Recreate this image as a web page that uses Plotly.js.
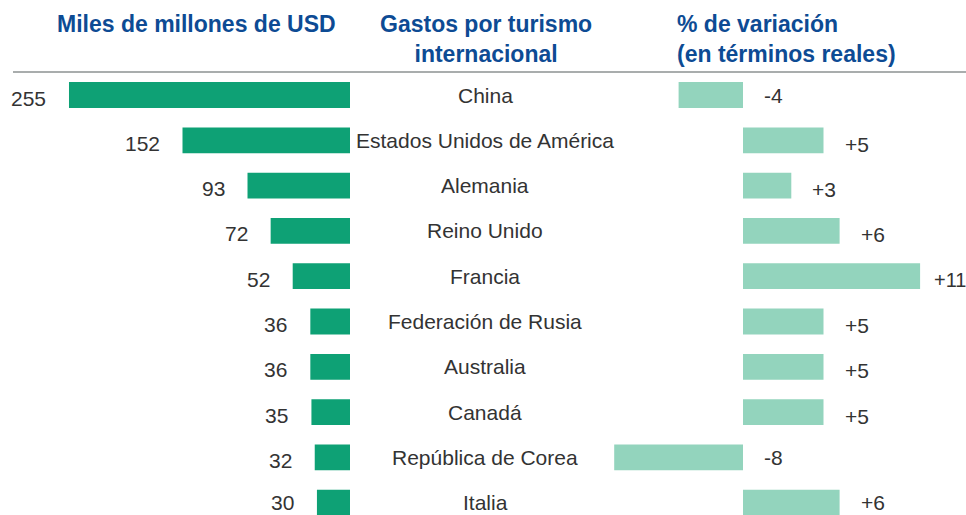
<!DOCTYPE html>
<html>
<head>
<meta charset="utf-8">
<script src="https://cdn.plot.ly/plotly-3.0.1.min.js"></script>
<style>html,body{margin:0;padding:0;background:#fff;}#chart{width:966px;height:515px;}</style>
</head>
<body>
<div id="chart"></div>
<script>
const countries = ["China","Estados Unidos de América","Alemania","Reino Unido","Francia","Federación de Rusia","Australia","Canadá","República de Corea","Italia"];
const spending = [255,152,93,72,52,36,36,35,32,30];
const change = [-4,5,3,6,11,5,5,5,-8,6];
const changeLabels = ["-4","+5","+3","+6","+11","+5","+5","+5","-8","+6"];

const W = 966, H = 515;
const dark = "#0ea175", light = "#93d4bd", blue = "#0d4b94", txt = "#333333";
const font = "Liberation Sans, Arial, sans-serif";

const traces = [
  {type:"bar", orientation:"h", x:spending, y:countries, xaxis:"x", yaxis:"y",
   marker:{color:dark}, width:0.57, hoverinfo:"skip", showlegend:false},
  {type:"bar", orientation:"h", x:change, y:countries, xaxis:"x2", yaxis:"y",
   marker:{color:light}, width:0.57, hoverinfo:"skip", showlegend:false}
];

const ann = [];
countries.forEach((c,i)=>{
  const last = i === countries.length - 1;
  ann.push({x:485/W, xref:"paper", y:c, yref:"y", text:c, showarrow:false,
    xanchor:"center", yanchor:"middle", font:{family:font,size:21,color:txt}});
  ann.push({x:spending[i], xref:"x", y:c, yref:"y", text:String(spending[i]), showarrow:false,
    xanchor:"right", yanchor:"middle", xshift:-21, yshift:last?0:-3, font:{family:font,size:21,color:txt}});
  const pos = change[i] > 0;
  const wide = changeLabels[i].length > 2;
  ann.push({x:pos?change[i]:0, xref:"x2", y:c, yref:"y", text:changeLabels[i], showarrow:false,
    xanchor:"left", yanchor:"middle", xshift:wide?12:19, yshift:(pos&&!last)?-4:0,
    font:{family:font,size:wide?20:21,color:txt}});
});
ann.push({x:196/W, xref:"paper", y:1-24/H, yref:"paper", text:"<b>Miles de millones de USD</b>", showarrow:false,
  xanchor:"center", yanchor:"middle", font:{family:font,size:23,color:blue}});
ann.push({x:486/W, xref:"paper", y:1-38.5/H, yref:"paper", text:"<b>Gastos por turismo<br>internacional</b>", showarrow:false,
  xanchor:"center", yanchor:"middle", align:"center", font:{family:font,size:23,color:blue}});
ann.push({x:675/W, xref:"paper", y:1-38.5/H, yref:"paper", text:"<b>% de variación<br>(en términos reales)</b>", showarrow:false,
  xanchor:"left", yanchor:"middle", align:"left", font:{family:font,size:23,color:blue}});

const layout = {
  width:W, height:H, margin:{l:0,r:0,t:0,b:0},
  paper_bgcolor:"#fff", plot_bgcolor:"rgba(0,0,0,0)",
  xaxis:{domain:[0,350/W], range:[350/1.102,0], visible:false, fixedrange:true},
  xaxis2:{domain:[580/W,1], range:[-(743-580)/16.1,(966-743)/16.1], visible:false, fixedrange:true},
  yaxis:{domain:[0,1], type:"category", range:[(515-95)/45.3,-95/45.3], visible:false, fixedrange:true},
  shapes:[{type:"line", xref:"paper", yref:"paper", x0:13/W, x1:1, y0:1-72/H, y1:1-72/H,
    line:{color:"#a9adad", width:2}}],
  annotations:ann, font:{family:font}
};
Plotly.newPlot("chart", traces, layout, {staticPlot:true, displayModeBar:false});
</script>
</body>
</html>
